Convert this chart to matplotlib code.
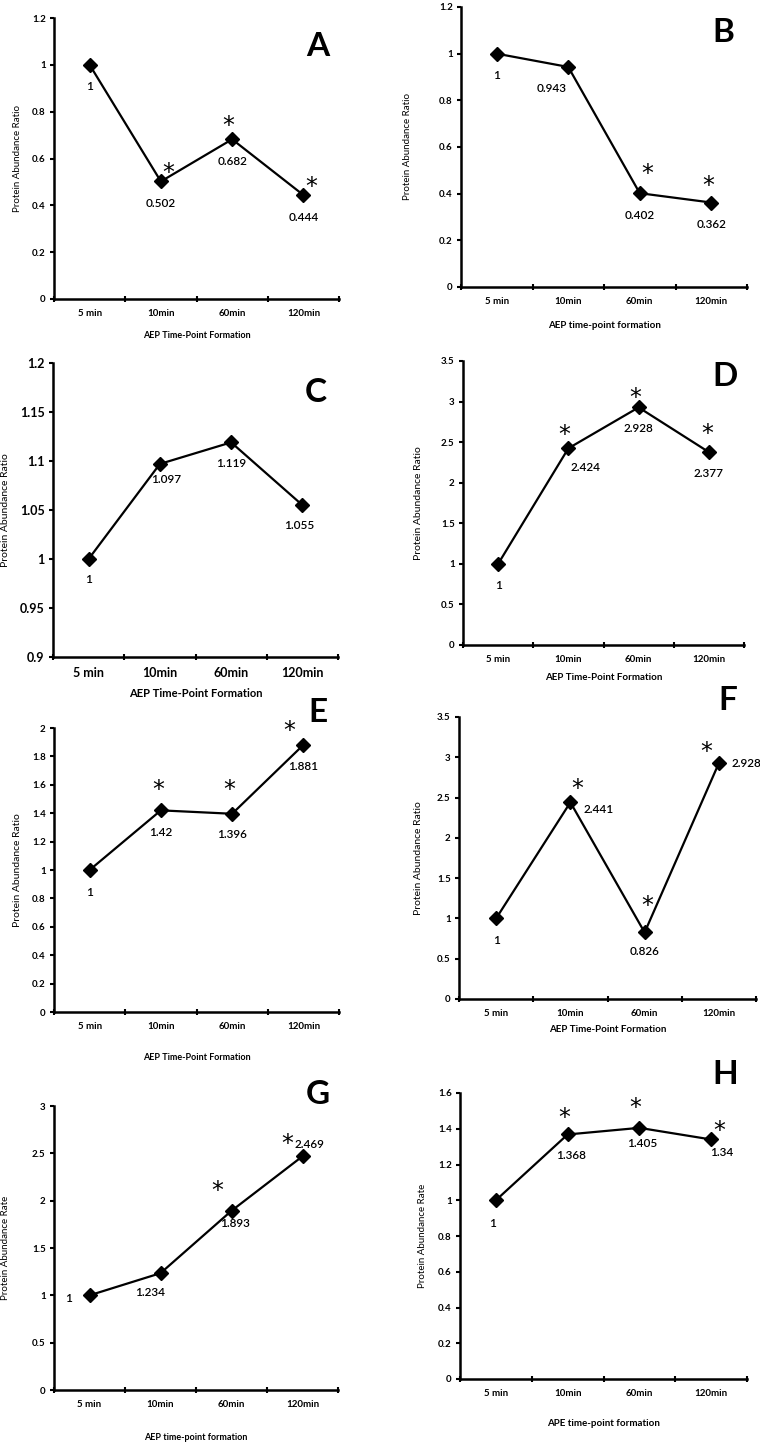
import numpy as np
import matplotlib
matplotlib.use("Agg")
import matplotlib.pyplot as plt
from matplotlib.ticker import FixedLocator, NullFormatter, FuncFormatter

# AEP time-course protein abundance panels A-H
plt.rcParams["font.family"] = ["Lato", "DejaVu Sans"]

W_PX, H_PX = 760, 1446

TIMES = ["5 min", "10min", "60min", "120min"]

# values per panel
vals_A = [1, 0.502, 0.682, 0.444]
vals_B = [1, 0.943, 0.402, 0.362]
vals_C = [1, 1.097, 1.119, 1.055]
vals_D = [1, 2.424, 2.928, 2.377]
vals_E = [1, 1.42, 1.396, 1.881]
vals_F = [1, 2.441, 0.826, 2.928]
vals_G = [1, 1.234, 1.893, 2.469]
vals_H = [1, 1.368, 1.405, 1.34]

# significance flags
star_A = [0, 1, 1, 1]
star_B = [0, 0, 1, 1]
star_C = [0, 0, 0, 0]
star_D = [0, 1, 1, 1]
star_E = [0, 1, 1, 1]
star_F = [0, 1, 1, 1]
star_G = [0, 0, 1, 1]
star_H = [0, 1, 1, 1]

yticks_A = [0, 0.2, 0.4, 0.6, 0.8, 1, 1.2]
yticks_B = [0, 0.2, 0.4, 0.6, 0.8, 1, 1.2]
yticks_C = [0.9, 0.95, 1, 1.05, 1.1, 1.15, 1.2]
yticks_D = [0, 0.5, 1, 1.5, 2, 2.5, 3, 3.5]
yticks_E = [0, 0.2, 0.4, 0.6, 0.8, 1, 1.2, 1.4, 1.6, 1.8, 2]
yticks_F = [0, 0.5, 1, 1.5, 2, 2.5, 3, 3.5]
yticks_G = [0, 0.5, 1, 1.5, 2, 2.5, 3]
yticks_H = [0, 0.2, 0.4, 0.6, 0.8, 1, 1.2, 1.4, 1.6]

ylab_ratio = "Protein Abundance Ratio"
ylab_rate = "Protein Abundance Rate"
xlab_A = "AEP Time-Point Formation"
xlab_B = "AEP time-point formation"
xlab_H = "APE time-point formation"

# layout: axes box in pixels (left, top, right, bottom), label spots in pixels
panels = [
    dict(letter="A", vals=vals_A, stars=star_A, yt=yticks_A, box=(54, 18, 339, 299),
         ylab=ylab_ratio, ylx=22, xlab=xlab_A, xly=335, lpos=(318, 46), tfs=7, xfs=6.5, yfs=7,
         lab_off=[(0, -22), (0, -22), (0, -22), (0, -22)],
         star_off=[(0, 0), (7, 14), (-4, 19), (8, 14)]),
    dict(letter="B", vals=vals_B, stars=star_B, yt=yticks_B, box=(461, 7, 747, 287),
         ylab=ylab_ratio, ylx=412, xlab=xlab_B, xly=325, lpos=(723, 33), tfs=7, xfs=7, yfs=7,
         lab_off=[(0, -22), (-17, -22), (0, -22), (0, -22)],
         star_off=[(0, 0), (0, 0), (7, 25), (-3, 23)]),
    dict(letter="C", vals=vals_C, stars=star_C, yt=yticks_C, box=(53, 363, 338, 657),
         ylab=ylab_ratio, ylx=10, xlab=xlab_A, xly=693, lpos=(316, 392), tfs=9, xfs=8, yfs=7.5,
         lab_off=[(0, -21), (6, -16), (0, -21), (-3, -20)],
         star_off=[(0, 0)] * 4),
    dict(letter="D", vals=vals_D, stars=star_D, yt=yticks_D, box=(463, 361, 744, 645),
         ylab=ylab_ratio, ylx=423, xlab=xlab_A, xly=677, lpos=(725, 377), tfs=7, xfs=7, yfs=7.5,
         lab_off=[(0, -22), (17, -19), (0, -21), (0, -21)],
         star_off=[(0, 0), (-4, 19), (-3, 15), (-2, 24)]),
    dict(letter="E", vals=vals_E, stars=star_E, yt=yticks_E, box=(54, 728, 339, 1012),
         ylab=ylab_ratio, ylx=22, xlab=xlab_A, xly=1057, lpos=(318, 712), tfs=7, xfs=6.5, yfs=7.5,
         lab_off=[(0, -22), (0, -22), (0, -21), (0, -22)],
         star_off=[(0, 0), (-3, 26), (-3, 30), (-14, 20)]),
    dict(letter="F", vals=vals_F, stars=star_F, yt=yticks_F, box=(459, 717, 756, 999),
         ylab=ylab_ratio, ylx=423, xlab=xlab_A, xly=1030, lpos=(728, 700), tfs=7, xfs=7, yfs=7.5,
         lab_off=[(0, -22), (28, -7), (0, -19), (28, 0)],
         star_off=[(0, 0), (7, 19), (3, 32), (-13, 17)]),
    dict(letter="G", vals=vals_G, stars=star_G, yt=yticks_G, box=(54, 1106, 338, 1390),
         ylab=ylab_rate, ylx=10, xlab=xlab_B, xly=1437, lpos=(318, 1095), tfs=7, xfs=6.5, yfs=7,
         lab_off=[(-21, -3), (-10, -19), (4, -13), (7, 12)],
         star_off=[(0, 0), (0, 0), (-14, 26), (-15, 18)]),
    dict(letter="H", vals=vals_H, stars=star_H, yt=yticks_H, box=(460, 1093, 747, 1379),
         ylab=ylab_rate, ylx=427, xlab=xlab_H, xly=1424, lpos=(725, 1075), tfs=7, xfs=7, yfs=7,
         lab_off=[(-3, -23), (3, -21), (3, -16), (11, -13)],
         star_off=[(0, 0), (-3, 22), (-4, 26), (8, 14)]),
]

fig = plt.figure(figsize=(W_PX / 100, H_PX / 100), dpi=100)

for p in panels:
    l, t, r, b = p["box"]
    ax = fig.add_axes([l / W_PX, 1 - b / H_PX, (r - l) / W_PX, (b - t) / H_PX])
    x = np.arange(len(TIMES))
    ax.plot(x, p["vals"], color="black", lw=1.6, marker="D", ms=7,
            mec="black", mfc="black", clip_on=False)

    ax.set_xlim(-0.5, len(TIMES) - 0.5)
    ax.set_ylim(p["yt"][0], p["yt"][-1])
    ax.set_yticks(p["yt"])
    ax.yaxis.set_major_formatter(FuncFormatter(lambda v, _: f"{v:g}"))
    ax.xaxis.set_major_locator(FixedLocator(np.arange(-0.5, len(TIMES), 1.0)))
    ax.xaxis.set_major_formatter(NullFormatter())
    ax.xaxis.set_minor_locator(FixedLocator(x))
    ax.set_xticklabels(TIMES, minor=True)
    ax.tick_params(axis="x", which="minor", length=0, pad=7)
    ax.tick_params(axis="x", which="major", direction="inout", length=4, width=1.5)
    ax.tick_params(axis="y", direction="out", length=3, width=1.5, pad=3)
    for lab in ax.get_xticklabels(minor=True) + ax.get_yticklabels():
        lab.set_fontsize(p["tfs"])
        lab.set_fontweight("bold")

    for s in ("top", "right"):
        ax.spines[s].set_visible(False)
    for s in ("left", "bottom"):
        ax.spines[s].set_linewidth(1.8)

    ax.set_ylabel(p["ylab"], fontsize=p["yfs"])
    ax.yaxis.set_label_coords((p["ylx"] - l) / (r - l), 0.5)
    fig.text((l + r) / 2 / W_PX, 1 - p["xly"] / H_PX, p["xlab"], fontsize=p["xfs"],
             fontweight="bold", ha="center", va="center")

    # value labels and stars
    for i, v in enumerate(p["vals"]):
        dx, dy = p["lab_off"][i]
        ax.annotate(f"{v:g}", (x[i], v), xytext=(dx, dy), textcoords="offset pixels",
                    ha="center", va="center", fontsize=8.5, fontweight="semibold",
                    annotation_clip=False)
        if p["stars"][i]:
            sx, sy = p["star_off"][i]
            ax.annotate("*", (x[i], v), xytext=(sx, sy - 6), textcoords="offset pixels",
                        ha="center", va="center", fontsize=17, family="DejaVu Sans",
                        annotation_clip=False)

    fig.text(p["lpos"][0] / W_PX, 1 - p["lpos"][1] / H_PX, p["letter"], fontsize=24,
             fontweight="bold", ha="center", va="center")

fig.savefig("out.png", dpi=100)
